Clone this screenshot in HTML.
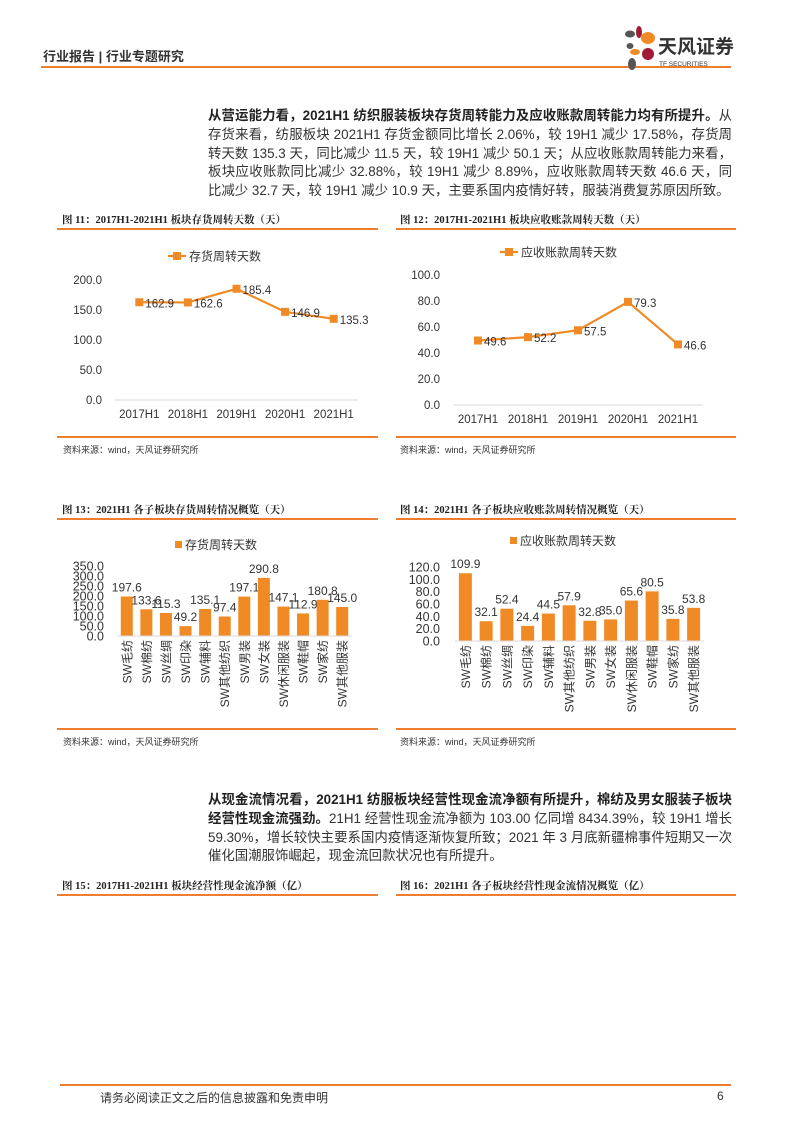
<!DOCTYPE html>
<html><head><meta charset="utf-8"><style>
body{margin:0;background:#fff;}
#page{position:relative;width:793px;height:1122px;overflow:hidden;font-family:"Liberation Sans","Noto Sans CJK SC",sans-serif;color:#222;}
.abs{position:absolute;}
.para{position:absolute;left:208px;width:524px;font-size:13.4px;line-height:18.8px;color:#333;text-align:justify;}
.para b{color:#222;}
.ftitle{position:absolute;font-size:10.5px;font-weight:bold;font-family:"Liberation Serif","Noto Serif CJK SC",serif;color:#222;}
.oline{position:absolute;height:2px;background:#ED7D31;}
.src{position:absolute;font-size:9px;color:#333;}
svg text{font-family:"Liberation Sans","Noto Sans CJK SC",sans-serif;}
</style></head><body>
<div id="page">
<div class="abs" style="left:43px;top:46px;font-size:13px;font-weight:bold;color:#333;">行业报告 | 行业专题研究</div>
<div class="abs" style="left:41px;top:66px;width:690px;height:2px;background:#ED7D31;"></div>
<svg class="abs" style="left:622px;top:24px" width="112" height="46">
<ellipse cx="8" cy="10" rx="5" ry="3.5" fill="#555"/><ellipse cx="17" cy="8" rx="3" ry="6" fill="#A11B36"/><ellipse cx="26" cy="14" rx="7" ry="6" fill="#F08A24"/><ellipse cx="8" cy="22" rx="3.5" ry="3" fill="#555"/><ellipse cx="13" cy="28" rx="5" ry="3" fill="#F08A24"/><ellipse cx="26" cy="30" rx="6" ry="6" fill="#A11B36"/><ellipse cx="10" cy="40" rx="4" ry="6" fill="#555"/>
<text x="36" y="29" font-size="19" font-weight="bold" fill="#333">天风证券</text>
<text x="37" y="42" font-size="6.5" fill="#333">TF SECURITIES</text></svg>

<div class="para" style="top:107px"><b>从营运能力看，2021H1 纺织服装板块存货周转能力及应收账款周转能力均有所提升。</b>从存货来看，纺服板块 2021H1 存货金额同比增长 2.06%，较 19H1 减少 17.58%，存货周转天数 135.3 天，同比减少 11.5 天，较 19H1 减少 50.1 天；从应收账款周转能力来看，板块应收账款同比减少 32.88%，较 19H1 减少 8.89%，应收账款周转天数 46.6 天，同比减少 32.7 天，较 19H1 减少 10.9 天，主要系国内疫情好转，服装消费复苏原因所致。</div>

<div class="ftitle" style="left:62px;top:212px">图 11：2017H1-2021H1 板块存货周转天数（天）</div>
<div class="oline" style="left:57px;top:228px;width:321px"></div>
<div class="ftitle" style="left:400px;top:212px">图 12：2017H1-2021H1 板块应收账款周转天数（天）</div>
<div class="oline" style="left:396px;top:228px;width:340px"></div>

<svg id="c11" class="abs" style="left:0;top:0" width="793" height="1122"></svg>

<div class="oline" style="left:57px;top:436px;width:321px;height:1.5px"></div>
<div class="oline" style="left:396px;top:436px;width:340px;height:1.5px"></div>
<div class="src" style="left:63px;top:443px">资料来源：wind，天风证券研究所</div>
<div class="src" style="left:400px;top:443px">资料来源：wind，天风证券研究所</div>

<div class="ftitle" style="left:62px;top:502px">图 13：2021H1 各子板块存货周转情况概览（天）</div>
<div class="oline" style="left:57px;top:518px;width:321px"></div>
<div class="ftitle" style="left:400px;top:502px">图 14：2021H1 各子板块应收账款周转情况概览（天）</div>
<div class="oline" style="left:396px;top:518px;width:340px"></div>
<div class="oline" style="left:57px;top:728px;width:321px;height:1.5px"></div>
<div class="oline" style="left:396px;top:728px;width:340px;height:1.5px"></div>
<div class="src" style="left:63px;top:735px">资料来源：wind，天风证券研究所</div>
<div class="src" style="left:400px;top:735px">资料来源：wind，天风证券研究所</div>

<div class="para" style="top:791px"><b>从现金流情况看，2021H1 纺服板块经营性现金流净额有所提升，棉纺及男女服装子板块经营性现金流强劲。</b>21H1 经营性现金流净额为 103.00 亿同增 8434.39%，较 19H1 增长 59.30%，增长较快主要系国内疫情逐渐恢复所致；2021 年 3 月底新疆棉事件短期又一次催化国潮服饰崛起，现金流回款状况也有所提升。</div>

<div class="ftitle" style="left:62px;top:878px">图 15：2017H1-2021H1 板块经营性现金流净额（亿）</div>
<div class="oline" style="left:57px;top:894px;width:321px"></div>
<div class="ftitle" style="left:400px;top:878px">图 16：2021H1 各子板块经营性现金流情况概览（亿）</div>
<div class="oline" style="left:396px;top:894px;width:340px"></div>

<div class="abs" style="left:60px;top:1084px;width:671px;height:1.5px;background:#ED7D31"></div>
<div class="abs" style="left:100px;top:1089px;font-size:12px;color:#333">请务必阅读正文之后的信息披露和免责申明</div>
<div class="abs" style="left:717px;top:1089px;font-size:12px;color:#333">6</div>
</div>
<script>
const lineCats = ["2017H1","2018H1","2019H1","2020H1","2021H1"];
const invDays = [162.9,162.6,185.4,146.9,135.3];
const invTicks = [0,50,100,150,200];
const arDays = [49.6,52.2,57.5,79.3,46.6];
const arTicks = [0,20,40,60,80,100];
const subCats = ["SW毛纺","SW棉纺","SW丝绸","SW印染","SW辅料","SW其他纺织","SW男装","SW女装","SW休闲服装","SW鞋帽","SW家纺","SW其他服装"];
const subInv = [197.6,133.6,115.3,49.2,135.1,97.4,197.1,290.8,147.1,112.9,180.8,145.0];
const subInvTicks = [0,50,100,150,200,250,300,350];
const subAr = [109.9,32.1,52.4,24.4,44.5,57.9,32.8,35.0,65.6,80.5,35.8,53.8];
const subArTicks = [0,20,40,60,80,100,120];

const NS="http://www.w3.org/2000/svg";
const svg=document.getElementById('c11');
const OR="#F08A24";
function mk(tag,attrs,parent){const e=document.createElementNS(NS,tag);for(const k in attrs)e.setAttribute(k,attrs[k]);(parent||svg).appendChild(e);return e;}
function txt(x,y,s,size,anchor,parent){const t=mk('text',{x:x,y:y,'font-size':size,'text-anchor':anchor||'middle',fill:'#333'},parent);t.textContent=s;return t;}

function lineChart(name,cats,vals,ticks,o){
  const g=mk('g',{});
  
  
  const max=ticks[ticks.length-1];
  const y=v=>o.y0-(v/max)*(o.y0-o.yTop);
  const step=(o.x1-o.x0)/cats.length;
  const x=i=>o.x0+step*(i+0.5);
  const ax=mk('line',{x1:o.x0,x2:o.x1,y1:o.y0,y2:o.y0,stroke:'#d9d9d9','stroke-width':1},g);
  
  
  ticks.forEach(t=>{const e=txt(o.lx,y(t)+4,t.toFixed(1),11.5,'end',g);
    
    });
  cats.forEach((c,i)=>{const e=txt(x(i),o.y0+18,c,11.5,'middle',g);
    
    });
  const p=mk('polyline',{points:vals.map((v,i)=>x(i)+','+y(v)).join(' '),fill:'none',stroke:OR,'stroke-width':2.2},g);
  
  
  vals.forEach((v,i)=>{const r=mk('rect',{x:x(i)-4,y:y(v)-4,width:8,height:8,fill:OR},g);
    
    
    const l=txt(x(i)+6,y(v)+5,v.toFixed(1),11.5,'start',g);
    
    });
  const lg=mk('g',{},g);
  
  
  mk('line',{x1:o.legX,x2:o.legX+18,y1:o.legY,y2:o.legY,stroke:OR,'stroke-width':2.2},lg);
  mk('rect',{x:o.legX+5,y:o.legY-4,width:8,height:8,fill:OR},lg);
  txt(o.legX+21,o.legY+4.5,o.leg,12,'start',lg);
}
function barChart(name,cats,vals,ticks,o){
  const g=mk('g',{});
  
  
  const max=ticks[ticks.length-1];
  const y=v=>o.y0-(v/max)*(o.y0-o.yTop);
  const step=(o.x1-o.x0)/cats.length;
  const x=i=>o.x0+step*(i+0.5);
  ticks.forEach(t=>{const e=txt(o.lx,y(t)+4.5,t.toFixed(1),12.5,'end',g);
    
    });
  vals.forEach((v,i)=>{const r=mk('rect',{x:x(i)-o.bw/2,y:y(v),width:o.bw,height:o.y0-y(v),fill:OR},g);
    
    
    const l=txt(x(i),y(v)-5,v.toFixed(1),12,'middle',g);
    
    });
  const ax=mk('line',{x1:o.x0,x2:o.x1,y1:o.y0,y2:o.y0,stroke:'#d9d9d9','stroke-width':1},g);
  
  
  cats.forEach((c,i)=>{const t=mk('text',{x:0,y:0,'font-size':12,'text-anchor':'end',fill:'#333',transform:'translate('+(x(i)+4.5)+','+(o.y0+4)+') rotate(-90)'},g);
    t.textContent=c;
    
    });
  const lg=mk('g',{},g);
  
  
  mk('rect',{x:o.legX,y:o.legY-4,width:7,height:7,fill:OR},lg);
  txt(o.legX+10,o.legY+4,o.leg,12,'start',lg);
}
lineChart('inventory-days-chart',lineCats,invDays,invTicks,{x0:115,x1:358,y0:400,yTop:280,lx:102,legX:168,legY:256,leg:'存货周转天数'});
lineChart('receivable-days-chart',lineCats,arDays,arTicks,{x0:453,x1:703,y0:405,yTop:275,lx:440,legX:500,legY:252,leg:'应收账款周转天数'});
barChart('sub-inventory-chart',subCats,subInv,subInvTicks,{x0:117,x1:352,y0:636,yTop:566,lx:104,bw:12,legX:175,legY:545,leg:'存货周转天数'});
barChart('sub-receivable-chart',subCats,subAr,subArTicks,{x0:455,x1:704,y0:641,yTop:567,lx:440,bw:13,legX:510,legY:541,leg:'应收账款周转天数'});
</script>
</body></html>
